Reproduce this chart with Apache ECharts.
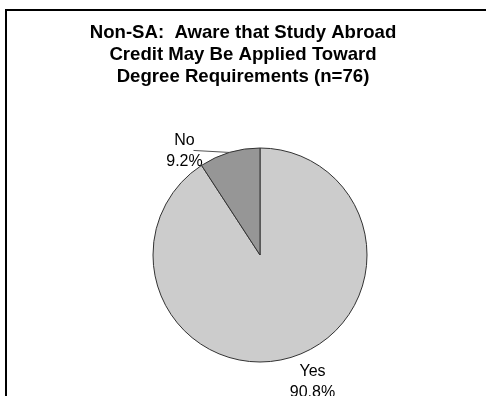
<!DOCTYPE html>
<html>
<head>
<meta charset="utf-8">
<title>Non-SA: Aware that Study Abroad Credit May Be Applied Toward Degree Requirements</title>
<script src="https://cdn.jsdelivr.net/npm/echarts@6/dist/echarts.min.js"></script>
<style>
  html, body { margin: 0; padding: 0; background: #ffffff; }
  #chart { width: 486px; height: 396px; }
</style>
</head>
<body>
<div id="chart"></div>
<script>
// Survey answers and their shares (percent)
const categories = ['Yes', 'No'];
const shares = [90.8, 9.2];
const sliceColors = ['#cccccc', '#969696'];

const titleText = 'Non-SA:  Aware that Study Abroad\nCredit May Be Applied Toward\nDegree Requirements (n=76)';

// Pie geometry
const CX = 260, CY = 255, R = 107;

// Label offsets from the slice's outer mid point, and leader line end offsets
const labelOffsets = [[22, 25], [-45, -1]];
const leaderEnds = [null, [-36, -2]];

const total = shares.reduce((a, b) => a + b, 0);

// Outer mid point of slice i (clockwise from 12 o'clock)
function sliceEdgePoint(i) {
  let before = 0;
  for (let k = 0; k < i; k++) before += shares[k];
  const theta = (before + shares[i] / 2) / total * Math.PI * 2;
  return [CX + R * Math.sin(theta), CY - R * Math.cos(theta)];
}

const data = categories.map((name, i) => ({
  name: name,
  value: shares[i],
  itemStyle: { color: sliceColors[i] },
  labelLine: { show: leaderEnds[i] !== null }
}));

const chart = echarts.init(document.getElementById('chart'), null, { renderer: 'canvas' });

chart.setOption({
  animation: false,
  backgroundColor: '#ffffff',
  title: {
    text: titleText,
    left: 'center',
    top: 22,
    padding: 0,
    textStyle: {
      fontFamily: '"Liberation Sans", Arial, sans-serif',
      fontSize: 18.6,
      fontWeight: 'bold',
      lineHeight: 22,
      color: '#000000'
    }
  },
  graphic: [{
    type: 'rect',
    shape: { x: 6, y: 10, width: 520, height: 420 },
    style: { fill: 'none', stroke: '#000000', lineWidth: 2 },
    silent: true
  }],
  series: [{
    type: 'pie',
    center: [CX, CY],
    radius: R,
    startAngle: 90,
    clockwise: true,
    avoidLabelOverlap: false,
    minShowLabelAngle: 0,
    data: data,
    itemStyle: { borderColor: '#333333', borderWidth: 1 },
    emphasis: { disabled: true },
    label: {
      show: true,
      position: 'outside',
      formatter: p => p.name + '\n' + p.value.toFixed(1) + '%',
      fontFamily: '"Liberation Sans", Arial, sans-serif',
      fontSize: 16,
      lineHeight: 21,
      color: '#000000'
    },
    labelLine: {
      show: true,
      length: 2,
      length2: 30,
      smooth: false,
      lineStyle: { color: '#555555', width: 1 }
    },
    labelLayout: function (params) {
      const i = params.dataIndex;
      const p = sliceEdgePoint(i);
      const res = {
        x: p[0] + labelOffsets[i][0],
        y: p[1] + labelOffsets[i][1],
        align: 'center',
        verticalAlign: 'middle'
      };
      if (leaderEnds[i]) {
        res.labelLinePoints = [
          [p[0], p[1]],
          [p[0] + leaderEnds[i][0], p[1] + leaderEnds[i][1]]
        ];
      }
      return res;
    }
  }]
});
</script>
</body>
</html>
